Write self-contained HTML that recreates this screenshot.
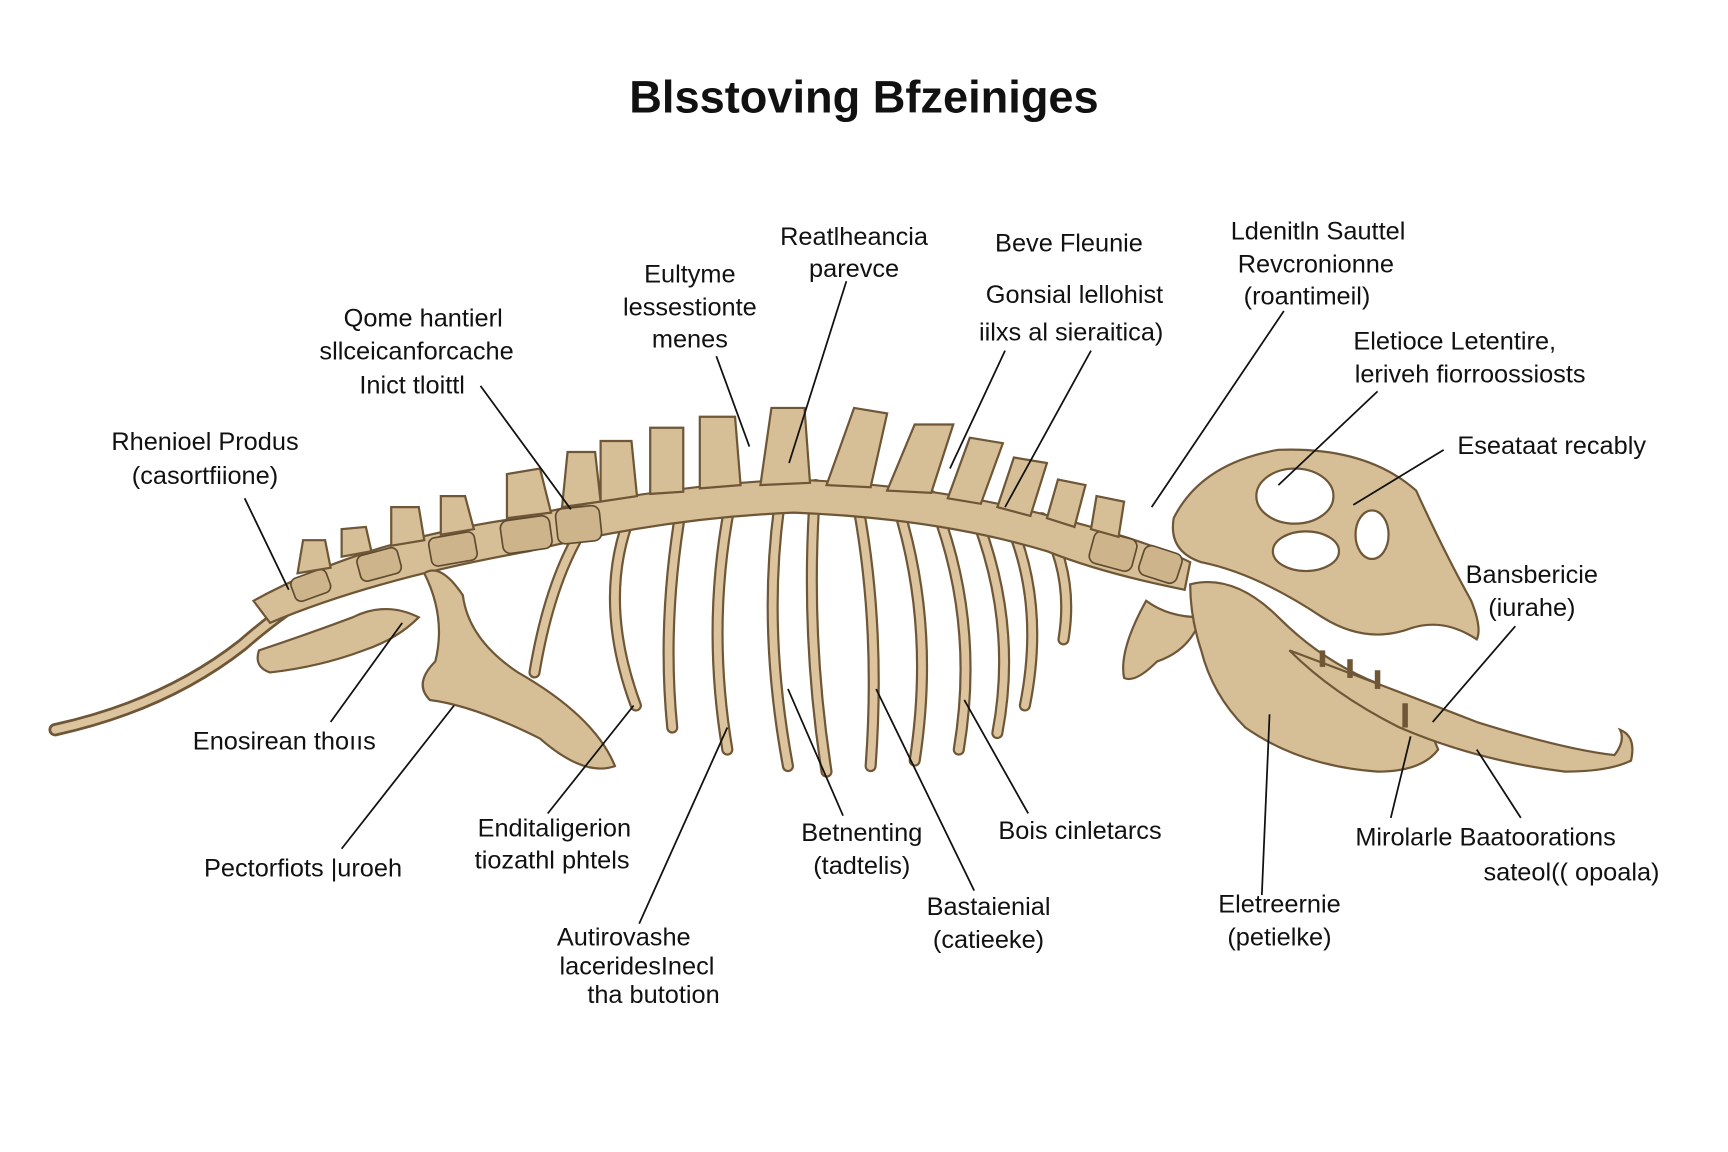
<!DOCTYPE html>
<html><head><meta charset="utf-8"><style>
html,body{margin:0;padding:0;background:#fff;}
svg{display:block;}
text{font-family:"Liberation Sans",sans-serif;fill:#111;font-size:23px;text-anchor:middle;}
.b{fill:#d6bf97;stroke:#6e5636;stroke-width:2;}
.r{fill:none;stroke:#6e5636;stroke-width:11;stroke-linecap:round;}
.ri{fill:none;stroke:#dcc59e;stroke-width:7;stroke-linecap:round;}
.l{stroke:#111;stroke-width:1.6;fill:none;}
.v{fill:#cdb48a;stroke:#5e4a2e;stroke-width:1.5;}
</style></head><body>
<svg width="1728" height="1152" viewBox="0 0 1568 1045" xmlns="http://www.w3.org/2000/svg">
<rect width="1568" height="1045" fill="#fff"/>
<text x="784" y="102" style="font-size:41px;font-weight:bold">Blsstoving Bfzeiniges</text>

<path d="M50,662 Q150,640 220,585 Q260,550 300,528" class="r" style="stroke-width:12"/>
<path d="M50,662 Q150,640 220,585 Q260,550 300,528" class="ri" style="stroke-width:7"/>
<g>
<path class="r" d="M535,470 Q500,520 485,610"/><path class="ri" d="M535,470 Q500,520 485,610"/>
<path class="r" d="M575,460 Q540,540 577,640"/><path class="ri" d="M575,460 Q540,540 577,640"/>
<path class="r" d="M620,450 Q600,560 610,660"/><path class="ri" d="M620,450 Q600,560 610,660"/>
<path class="r" d="M665,445 Q640,560 660,680"/><path class="ri" d="M665,445 Q640,560 660,680"/>
<path class="r" d="M710,440 Q690,560 715,695"/><path class="ri" d="M710,440 Q690,560 715,695"/>
<path class="r" d="M740,440 Q730,570 750,700"/><path class="ri" d="M740,440 Q730,570 750,700"/>
<path class="r" d="M775,440 Q800,560 790,695"/><path class="ri" d="M775,440 Q800,560 790,695"/>
<path class="r" d="M810,445 Q850,560 830,690"/><path class="ri" d="M810,445 Q850,560 830,690"/>
<path class="r" d="M845,450 Q890,560 870,680"/><path class="ri" d="M845,450 Q890,560 870,680"/>
<path class="r" d="M880,455 Q925,560 905,665"/><path class="ri" d="M880,455 Q925,560 905,665"/>
<path class="r" d="M910,460 Q950,540 930,640"/><path class="ri" d="M910,460 Q950,540 930,640"/>
<path class="r" d="M945,470 Q975,520 965,580"/><path class="ri" d="M945,470 Q975,520 965,580"/>
</g>
<path class="b" d="M230,545 Q330,490 470,470 Q600,440 720,435 Q850,440 960,470 Q1040,490 1080,510 L1075,535 Q1000,520 950,500 Q850,470 720,465 Q600,470 480,500 Q340,525 245,565 Z"/>
<g class="v">
<rect x="265" y="520" width="34" height="22" rx="6" transform="rotate(-20 282 531)"/>
<rect x="325" y="500" width="38" height="24" rx="6" transform="rotate(-15 344 512)"/>
<rect x="390" y="485" width="42" height="26" rx="6" transform="rotate(-10 411 498)"/>
<rect x="455" y="470" width="45" height="30" rx="7" transform="rotate(-8 477 485)"/>
<rect x="505" y="460" width="40" height="32" rx="7" transform="rotate(-6 525 476)"/>
<rect x="990" y="485" width="40" height="30" rx="7" transform="rotate(15 1010 500)"/>
<rect x="1035" y="498" width="36" height="28" rx="7" transform="rotate(18 1053 512)"/>
</g>
<g class="b">
<path d="M270,520 l5,-30 l20,0 l5,25 z"/><path d="M310,505 l0,-25 l22,-2 l5,22 z"/>
<path d="M355,495 l0,-35 l25,0 l5,30 z"/><path d="M400,485 l0,-35 l22,0 l8,30 z"/>
<path d="M460,470 l0,-40 l30,-5 l10,40 z"/><path d="M510,460 l5,-50 l25,0 l5,45 z"/>
<path d="M545,455 l0,-55 l28,0 l5,50 z"/><path d="M590,448 l0,-60 l30,0 l0,58 z"/>
<path d="M635,443 l0,-65 l32,0 l5,62 z"/><path d="M690,440 l10,-70 l30,0 l5,68 z"/>
<path d="M750,440 l25,-70 l30,5 l-15,67 z"/><path d="M805,445 l25,-60 l35,0 l-20,62 z"/>
<path d="M860,452 l20,-55 l30,5 l-20,55 z"/><path d="M905,460 l15,-45 l30,5 l-15,48 z"/>
<path d="M950,470 l10,-35 l25,5 l-10,38 z"/><path d="M990,480 l5,-30 l25,5 l-5,32 z"/>
</g>
<path class="b" d="M385,520 Q400,510 420,540 Q425,580 470,610 Q540,650 558,695 Q530,705 490,670 Q430,640 390,635 Q375,620 395,600 Q405,560 385,520 Z"/>
<path class="b" d="M235,590 Q280,575 320,560 Q350,545 380,560 Q360,580 330,590 Q290,605 245,610 Q230,605 235,590 Z"/>
<path class="b" d="M1040,545 Q1060,560 1090,560 Q1080,590 1050,600 Q1030,620 1020,615 Q1015,590 1040,545 Z"/>
<path class="b" d="M1065,470 Q1090,420 1160,408 Q1240,405 1285,445 Q1310,500 1335,545 Q1345,570 1340,580 Q1310,560 1280,570 Q1240,585 1200,560 Q1140,520 1090,510 Q1060,500 1065,470 Z"/>
<ellipse cx="1175" cy="450" rx="35" ry="25" fill="#fff" stroke="#6e5636" stroke-width="2"/>
<ellipse cx="1245" cy="485" rx="15" ry="22" fill="#fff" stroke="#6e5636" stroke-width="2"/>
<ellipse cx="1185" cy="500" rx="30" ry="18" fill="#fff" stroke="#6e5636" stroke-width="2"/>
<path class="b" d="M1080,530 Q1120,520 1160,560 Q1200,600 1250,620 Q1290,640 1305,680 Q1290,700 1250,700 Q1180,695 1130,660 Q1100,630 1090,590 Q1080,560 1080,530 Z"/>
<path class="b" d="M1170,590 Q1250,620 1340,655 Q1420,680 1465,685 Q1475,672 1470,662 Q1485,668 1480,690 Q1460,700 1420,700 Q1340,690 1270,660 Q1210,630 1170,590 Z"/>
<g stroke="#6e5636" stroke-width="5"><line x1="1200" y1="605" x2="1200" y2="590"/><line x1="1225" y1="615" x2="1225" y2="598"/><line x1="1250" y1="625" x2="1250" y2="608"/><line x1="1275" y1="638" x2="1275" y2="660"/></g>

<g class="l">
<line x1="222" y1="452" x2="262" y2="535"/><line x1="436" y1="350" x2="518" y2="462"/>
<line x1="650" y1="323" x2="680" y2="405"/><line x1="768" y1="255" x2="716" y2="420"/>
<line x1="912" y1="318" x2="862" y2="425"/><line x1="990" y1="318" x2="912" y2="460"/>
<line x1="1165" y1="282" x2="1045" y2="460"/><line x1="1250" y1="355" x2="1160" y2="440"/>
<line x1="1310" y1="408" x2="1228" y2="458"/><line x1="1375" y1="568" x2="1300" y2="655"/>
<line x1="300" y1="655" x2="365" y2="565"/><line x1="310" y1="770" x2="412" y2="640"/>
<line x1="497" y1="738" x2="575" y2="640"/><line x1="580" y1="838" x2="660" y2="660"/>
<line x1="765" y1="740" x2="715" y2="625"/><line x1="884" y1="808" x2="795" y2="625"/>
<line x1="933" y1="738" x2="875" y2="635"/><line x1="1145" y1="812" x2="1152" y2="648"/>
<line x1="1262" y1="742" x2="1280" y2="668"/><line x1="1380" y1="742" x2="1340" y2="680"/>
</g>

<text x="186" y="408">Rhenioel Produs</text><text x="186" y="439">(casortfiione)</text>
<text x="384" y="296">Qome hantierl</text><text x="378" y="326">sllceicanforcache</text><text x="374" y="357">Inict tloittl</text>
<text x="626" y="256">Eultyme</text><text x="626" y="286">lessestionte</text><text x="626" y="315">menes</text>
<text x="775" y="222">Reatlheancia</text><text x="775" y="251">parevce</text>
<text x="970" y="228">Beve Fleunie</text>
<text x="975" y="275">Gonsial lellohist</text><text x="972" y="309">iilxs al sieraitica)</text>
<text x="1196" y="217">Ldenitln Sauttel</text><text x="1194" y="247">Revcronionne</text><text x="1186" y="276">(roantimeil)</text>
<text x="1320" y="317">Eletioce Letentire,</text><text x="1334" y="347">leriveh fiorroossiosts</text>
<text x="1408" y="412">Esеataat recably</text>
<text x="1390" y="529">Bansbericie</text><text x="1390" y="559">(iurahe)</text>
<text x="258" y="680">Enosirean thoııs</text>
<text x="275" y="795">Pectorfiots |uroeh</text>
<text x="503" y="759">Enditaligerion</text><text x="501" y="788">tiozathl phtels</text>
<text x="782" y="763">Betnenting</text><text x="782" y="793">(tadtelis)</text>
<text x="980" y="761">Bois cinletarcs</text>
<text x="897" y="830">Bastaienial</text><text x="897" y="860">(catieeke)</text>
<text x="566" y="858">Autirovashe</text><text x="578" y="884">laceridesInecl</text><text x="593" y="910">tha butotion</text>
<text x="1161" y="828">Eletreernie</text><text x="1161" y="858">(petielke)</text>
<text x="1348" y="767">Mirolarle Baatoorations</text><text x="1426" y="799">sateol(( opoala)</text>
</svg>
</body></html>
